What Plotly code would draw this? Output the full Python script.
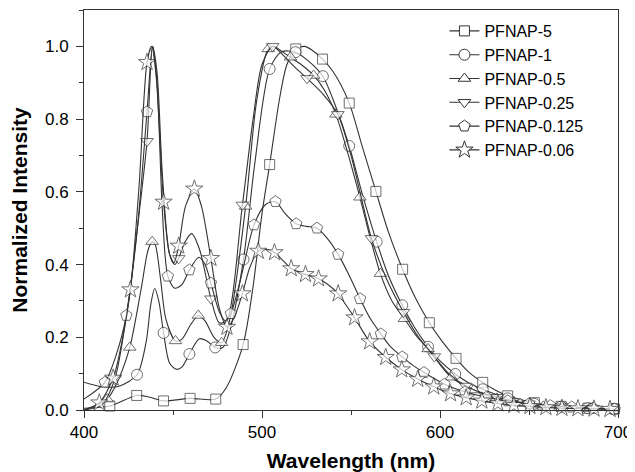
import plotly.graph_objects as go

# ---------------- data ----------------
names = ["PFNAP-5", "PFNAP-1", "PFNAP-0.5", "PFNAP-0.25", "PFNAP-0.125", "PFNAP-0.06"]

p5_x = [400, 414.5, 429.6, 437, 444.7, 459.6, 474, 480, 489.4, 495, 500, 504.3, 510, 514, 519, 524, 528,
        534, 540, 549, 556, 564, 571, 579, 586, 594, 601, 609, 616, 624, 631, 638, 653, 668, 683, 698]
p5_y = [0.005, 0.011, 0.04, 0.035, 0.025, 0.032, 0.03, 0.062, 0.18, 0.34, 0.54, 0.675, 0.86, 0.95, 0.993, 1.0, 0.99,
        0.965, 0.93, 0.844, 0.73, 0.601, 0.49, 0.387, 0.31, 0.24, 0.19, 0.142, 0.105, 0.076, 0.055, 0.039, 0.02, 0.01, 0.005, 0.003]
p5_marks = [414.5, 429.6, 444.7, 459.6, 474, 489.4, 504.3, 519, 534, 549, 564, 579, 594, 609, 624, 638, 653, 668, 683, 698]

p1_x = [399.5, 410, 420, 429.8, 435, 437.5, 439.7, 442, 444.7, 448, 451.8, 455, 459.2, 464.8, 469, 473.7, 478, 482,
        489.6, 496, 504.3, 511, 518.8, 526, 534.2, 541, 549, 556, 564.4, 571, 578.8, 586, 593.3, 600, 608.6, 616,
        624, 638, 653, 668, 683, 698]
p1_y = [0.077, 0.064, 0.066, 0.097, 0.19, 0.29, 0.334, 0.3, 0.212, 0.13, 0.112, 0.118, 0.154, 0.196, 0.19, 0.172, 0.172, 0.22,
        0.414, 0.68, 0.938, 0.985, 0.984, 0.96, 0.918, 0.84, 0.726, 0.6, 0.463, 0.37, 0.288, 0.225, 0.174, 0.135, 0.099, 0.075,
        0.057, 0.032, 0.017, 0.009, 0.005, 0.003]
p1_marks = [399.5, 429.8, 444.7, 459.2, 473.7, 489.6, 504.3, 518.8, 534.2, 549, 564.4, 578.8, 593.3, 608.6, 624, 638, 653, 668, 683, 698]

p05_x = [400, 413, 419, 425.7, 432, 436, 438.3, 440, 443, 446, 451.4, 455, 460, 464.2, 468, 473, 477.3, 482, 490.8, 497,
         503.5, 507, 510, 516, 522, 529, 535, 541.5, 548, 555, 561, 566.5, 573, 580, 586.5, 593.3, 600, 606.3, 619, 632,
         645, 658, 671, 684, 697]
p05_y = [0.0, 0.03, 0.08, 0.172, 0.33, 0.44, 0.463, 0.455, 0.36, 0.25, 0.19, 0.195, 0.235, 0.26, 0.245, 0.2, 0.185, 0.25, 0.56, 0.85,
         0.993, 1.0, 0.99, 0.97, 0.95, 0.92, 0.88, 0.813, 0.71, 0.585, 0.47, 0.375, 0.3, 0.251, 0.205, 0.168, 0.125, 0.09, 0.055, 0.032,
         0.018, 0.01, 0.006, 0.004, 0.003]
p05_marks = [413, 425.7, 438.3, 451.4, 464.2, 477.3, 490.8, 503.5, 516, 529, 541.5, 555, 566.5, 580, 593.3, 606.3,
             619, 632, 645, 658, 671, 684, 697]

p025_x = [400, 410, 417.3, 425, 430, 435.4, 438.5, 441, 444, 448, 451, 453.2, 456.5, 460.5, 465, 471.3, 476, 480, 489, 495,
          500, 506, 512, 518, 525.3, 534, 542.6, 550, 555, 561.5, 570, 579.5, 588, 596.8, 605, 614.5, 623, 632, 650, 668, 686]
p025_y = [0.0, 0.015, 0.085, 0.3, 0.5, 0.739, 1.0, 0.93, 0.65, 0.43, 0.4, 0.417, 0.46, 0.485, 0.44, 0.306, 0.24, 0.245, 0.564, 0.8,
          0.95, 1.0, 0.975, 0.945, 0.912, 0.87, 0.813, 0.7, 0.6, 0.472, 0.36, 0.269, 0.2, 0.147, 0.1, 0.066, 0.048, 0.035, 0.017, 0.009, 0.005]
p025_marks = [417.3, 435.4, 453.2, 471.3, 489, 506, 525.3, 542.6, 561.5, 579.5, 596.8, 614.5, 632, 650, 668, 686]

p0125_x = [400, 411.7, 418, 423.8, 430, 435.4, 438.5, 441, 444, 447.1, 451, 455, 459.2, 464.5, 468, 471.3, 476, 479.5, 482.5,
           488, 495.5, 502, 507.6, 513, 519.2, 525, 530.9, 537, 542.8, 549, 555.1, 561, 566.8, 572, 578.8, 585, 591, 602.5,
           614, 626, 638, 650, 662, 674, 686, 698]
p0125_y = [0.03, 0.076, 0.15, 0.26, 0.5, 0.82, 1.0, 0.9, 0.55, 0.368, 0.335, 0.345, 0.385, 0.42, 0.4, 0.349, 0.27, 0.245, 0.265,
           0.36, 0.509, 0.565, 0.573, 0.54, 0.512, 0.505, 0.5, 0.47, 0.428, 0.37, 0.306, 0.25, 0.209, 0.175, 0.146, 0.122, 0.103, 0.071,
           0.05, 0.035, 0.025, 0.017, 0.012, 0.008, 0.005, 0.003]
p0125_marks = [411.7, 423.8, 435.4, 447.1, 459.2, 471.3, 482.5, 495.5, 507.6, 519.2, 530.9, 542.8, 555.1, 566.8, 578.8,
               591, 602.5, 614, 626, 638, 650, 662, 674, 686, 698]

p006_x = [400, 408.6, 416.4, 421, 426.1, 431, 435.4, 438, 440.5, 444.7, 448, 450.5, 453.2, 457, 462, 466, 471.3, 476, 480.3,
          484, 489, 493, 497.9, 502, 507, 512, 516.4, 524.4, 531.8, 537, 542.8, 547, 552, 560.5, 569.5, 578.5, 587.5, 596.5,
          605.9, 614.7, 623.5, 632.5, 641.5, 650.5, 659.5, 668.5, 677.5, 686.5, 695.5]
p006_y = [0.0, 0.02, 0.088, 0.18, 0.331, 0.62, 0.956, 1.0, 0.92, 0.572, 0.43, 0.405, 0.451, 0.56, 0.608, 0.56, 0.417, 0.28, 0.228,
          0.25, 0.32, 0.39, 0.437, 0.442, 0.433, 0.41, 0.389, 0.373, 0.361, 0.345, 0.32, 0.29, 0.254, 0.188, 0.145, 0.111, 0.085, 0.064,
          0.045, 0.034, 0.025, 0.018, 0.013, 0.01, 0.007, 0.005, 0.004, 0.003, 0.002]
p006_marks = [408.6, 416.4, 426.1, 435.4, 444.7, 453.2, 462, 471.3, 480.3, 489, 497.9, 507, 516.4, 524.4, 531.8, 542.8,
              552, 560.5, 569.5, 578.5, 587.5, 596.5, 605.9, 614.7, 623.5, 632.5, 641.5, 650.5, 659.5, 668.5, 677.5,
              686.5, 695.5]

x_ticks = [400, 500, 600, 700]
y_ticks = [0.0, 0.2, 0.4, 0.6, 0.8, 1.0]

# ---------------- figure ----------------
series = [
    (p5_x, p5_y, p5_marks, "square", 10),
    (p1_x, p1_y, p1_marks, "circle", 11),
    (p05_x, p05_y, p05_marks, "triangle-up", 11),
    (p025_x, p025_y, p025_marks, "triangle-down", 11),
    (p0125_x, p0125_y, p0125_marks, "pentagon", 12),
    (p006_x, p006_y, p006_marks, "star", 13),
]

INK = "#333333"
fig = go.Figure()
for name, (xs, ys, marks, sym, sz) in zip(names, series):
    sizes = [sz if x in marks else 0 for x in xs]
    fig.add_trace(go.Scatter(
        x=xs, y=ys, name=name, mode="lines+markers", showlegend=False, legendgroup=name,
        line=dict(color=INK, width=1.1, shape="spline", smoothing=0.8),
        marker=dict(symbol=sym, size=sizes, color="white",
                    line=dict(color=INK, width=1)),
        cliponaxis=False,
    ))
    # legend entry only (no data drawn)
    fig.add_trace(go.Scatter(
        x=[None], y=[None], name=name, mode="lines+markers", legendgroup=name,
        line=dict(color=INK, width=1.1),
        marker=dict(symbol=sym, size=sz, color="white", line=dict(color=INK, width=1)),
    ))

FONT = "Liberation Sans, Arial, sans-serif"
# the page body adds an 8px offset, so the figure is 8px smaller and margins are shifted
fig.update_layout(
    width=627, height=464,
    margin=dict(l=76, r=17, t=2, b=62),
    paper_bgcolor="white", plot_bgcolor="white",
    font=dict(family=FONT, color="black", size=17),
    showlegend=True,
    legend=dict(x=0.675, y=0.99, xanchor="left", yanchor="top",
                bgcolor="rgba(0,0,0,0)", borderwidth=0,
                font=dict(family=FONT, size=16, color="black"),
                tracegroupgap=0),
    xaxis=dict(range=[400, 700], tickvals=x_ticks, ticks="outside", ticklen=7, tickwidth=1,
               tickcolor=INK, showline=True, linecolor=INK, linewidth=1, mirror=True,
               showgrid=False, zeroline=False, automargin=False,
               minor=dict(dtick=50, ticks="outside", ticklen=4, tickcolor=INK, showgrid=False),
               tickfont=dict(size=17),
               title=dict(text="<b>Wavelength (nm)</b>", font=dict(size=21), standoff=11)),
    yaxis=dict(range=[0, 1.1], tickvals=y_ticks, tickformat=".1f", ticks="outside", ticklen=7, tickwidth=1,
               tickcolor=INK, showline=True, linecolor=INK, linewidth=1, mirror=True,
               showgrid=False, zeroline=False, automargin=False, ticklabelstandoff=4,
               minor=dict(dtick=0.1, ticks="outside", ticklen=4, tickcolor=INK, showgrid=False),
               tickfont=dict(size=17),
               title=dict(text="<b>Normalized Intensity</b>", font=dict(size=21), standoff=12)),
)

fig.write_html("out.html")
